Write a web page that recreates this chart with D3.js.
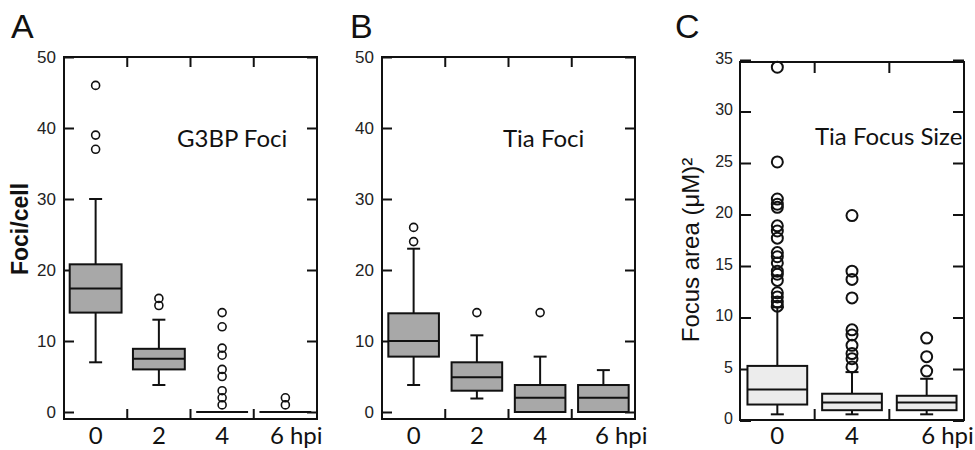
<!DOCTYPE html>
<html>
<head>
<meta charset="utf-8">
<script src="https://cdn.jsdelivr.net/npm/d3@7"></script>
<style>
  body { margin: 0; background: #fff; }
  svg { display: block; }
  .tick text { font-family: "Liberation Sans", Arial, sans-serif; fill: #222; }
</style>
</head>
<body>
<svg id="chart" width="975" height="450"></svg>
<script>
// panel A - G3BP foci per cell
var hpiA = ["0", "2", "4", "6 hpi"];
var g3bpQ1  = [14, 6, 0, 0];
var g3bpMed = [17.4, 7.5, 0, 0];
var g3bpQ3  = [20.8, 8.9, 0, 0];
var g3bpLo  = [7, 3.8, 0, 0];
var g3bpHi  = [30, 13, 0, 0];
var g3bpOut = [[46, 39, 37], [16, 15], [14, 12, 9, 8, 6, 5, 3, 2, 1], [2, 1]];

// panel B - Tia foci per cell
var hpiB = ["0", "2", "4", "6 hpi"];
var tiaQ1  = [7.8, 3, 0, 0];
var tiaMed = [10, 4.9, 2, 2];
var tiaQ3  = [13.9, 7, 3.8, 3.8];
var tiaLo  = [3.8, 1.9, 0, 0];
var tiaHi  = [23, 10.8, 7.8, 5.9];
var tiaOut = [[26, 24], [14], [14], []];

// panel C - Tia focus size
var hpiC = ["0", "4", "6 hpi"];
var sizeQ1  = [1.55, 1.0, 1.0];
var sizeMed = [3.0, 1.75, 1.75];
var sizeQ3  = [5.3, 2.6, 2.4];
var sizeLo  = [0.6, 0.6, 0.6];
var sizeHi  = [11, 4.7, 4.05];
var sizeOut = [
  [34.3, 25.1, 21.5, 21.0, 20.7, 18.9, 18.4, 17.7, 16.3, 15.9, 15.3, 14.5, 14.2, 13.6, 12.4, 12.0, 11.5, 11.1],
  [19.9, 14.5, 13.7, 11.9, 8.8, 8.3, 7.3, 6.5, 6.0, 5.2],
  [8.0, 6.2, 4.8]
];

var yTicksAB = [0, 10, 20, 30, 40, 50];
var yTicksC = [0, 5, 10, 15, 20, 25, 30, 35];

var svg = d3.select("#chart");

function panel(cfg) {
  var g = svg.append("g");
  var x = d3.scaleBand().domain(cfg.cats).range([cfg.left, cfg.right]);
  var y = d3.scaleLinear().domain(cfg.domain).range(cfg.yRange);

  // frame
  g.append("rect")
    .attr("x", cfg.left).attr("y", cfg.top)
    .attr("width", cfg.right - cfg.left).attr("height", cfg.bottom - cfg.top)
    .attr("fill", "none").attr("stroke", "#111").attr("stroke-width", 2);

  // y ticks left (with labels) and right
  var yl = g.append("g")
    .attr("transform", "translate(" + cfg.left + ",0)")
    .call(d3.axisLeft(y).tickValues(cfg.ticks).tickSize(-cfg.tick).tickPadding(cfg.pad));
  yl.select(".domain").remove();
  yl.selectAll("line").attr("stroke", "#111").attr("stroke-width", 2);
  yl.selectAll("text").attr("font-size", cfg.tickFont).attr("dy", cfg.tickDy);

  var yr = g.append("g")
    .attr("transform", "translate(" + cfg.right + ",0)")
    .call(d3.axisRight(y).tickValues(cfg.ticks).tickSize(-cfg.tick).tickFormat(""));
  yr.select(".domain").remove();
  yr.selectAll("line").attr("stroke", "#111").attr("stroke-width", 2);

  // band separators on top and bottom
  var seps = cfg.cats.slice(1);
  g.selectAll(".septop").data(seps).enter().append("line")
    .attr("x1", function(d) { return x(d); }).attr("x2", function(d) { return x(d); })
    .attr("y1", cfg.top).attr("y2", cfg.top + cfg.tick)
    .attr("stroke", "#111").attr("stroke-width", 2);
  g.selectAll(".sepbot").data(seps).enter().append("line")
    .attr("x1", function(d) { return x(d); }).attr("x2", function(d) { return x(d); })
    .attr("y1", cfg.bottom).attr("y2", cfg.bottom - cfg.tick)
    .attr("stroke", "#111").attr("stroke-width", 2);

  // boxes
  var bw = x.bandwidth() * cfg.boxFrac;
  var cap = cfg.cap;
  cfg.cats.forEach(function(c, i) {
    var cx = x(c) + x.bandwidth() / 2;
    var s = { q1: cfg.q1[i], med: cfg.med[i], q3: cfg.q3[i], lo: cfg.lo[i], hi: cfg.hi[i] };
    var bg = g.append("g");
    if (s.hi > s.q3) {
      bg.append("line").attr("x1", cx).attr("x2", cx).attr("y1", y(s.q3)).attr("y2", y(s.hi))
        .attr("stroke", "#111").attr("stroke-width", 2);
      bg.append("line").attr("x1", cx - cap / 2).attr("x2", cx + cap / 2).attr("y1", y(s.hi)).attr("y2", y(s.hi))
        .attr("stroke", "#111").attr("stroke-width", 2);
    }
    if (s.lo < s.q1) {
      bg.append("line").attr("x1", cx).attr("x2", cx).attr("y1", y(s.q1)).attr("y2", y(s.lo))
        .attr("stroke", "#111").attr("stroke-width", 2);
      bg.append("line").attr("x1", cx - cap / 2).attr("x2", cx + cap / 2).attr("y1", y(s.lo)).attr("y2", y(s.lo))
        .attr("stroke", "#111").attr("stroke-width", 2);
    }
    bg.append("rect")
      .attr("x", cx - bw / 2).attr("width", bw)
      .attr("y", y(s.q3)).attr("height", Math.max(0, y(s.q1) - y(s.q3)))
      .attr("fill", cfg.fill).attr("stroke", "#111").attr("stroke-width", 2);
    bg.append("line").attr("x1", cx - bw / 2).attr("x2", cx + bw / 2).attr("y1", y(s.med)).attr("y2", y(s.med))
      .attr("stroke", "#111").attr("stroke-width", 2);
    bg.selectAll("circle").data(cfg.out[i]).enter().append("circle")
      .attr("cx", cx).attr("cy", function(d) { return y(d); })
      .attr("r", cfg.r).attr("fill", "#fff").attr("fill-opacity", 0)
      .attr("stroke", "#111").attr("stroke-width", cfg.rw);
  });

  // x labels
  g.selectAll(".xl").data(cfg.cats).enter().append("text")
    .attr("x", function(d, i) {
      var cx = x(d) + x.bandwidth() / 2;
      return i === cfg.cats.length - 1 ? cx + cfg.lastShift : cx;
    })
    .attr("y", 444)
    .attr("text-anchor", function(d, i) { return i === cfg.cats.length - 1 ? "start" : "middle"; })
    .attr("font-family", "Lato, 'Open Sans', sans-serif")
    .attr("font-size", 24).attr("fill", "#111")
    .text(function(d) { return d; });

  // in-plot title
  g.append("text").attr("x", cfg.titleX).attr("y", cfg.titleY)
    .attr("font-family", "Lato, 'Open Sans', sans-serif")
    .attr("font-size", 24).attr("fill", "#111")
    .text(cfg.title);

  // panel letter
  g.append("text").attr("x", cfg.letterX).attr("y", cfg.letterY)
    .attr("font-family", "'Liberation Sans', Arial, sans-serif")
    .attr("font-size", 34).attr("fill", "#111")
    .text(cfg.letter);
}

panel({
  cats: hpiA, left: 64, right: 317, top: 57, bottom: 419,
  domain: [0, 50], yRange: [412, 57], ticks: yTicksAB, tick: 10, pad: 8,
  tickFont: 17, tickDy: "0.32em",
  q1: g3bpQ1, med: g3bpMed, q3: g3bpQ3, lo: g3bpLo, hi: g3bpHi, out: g3bpOut,
  fill: "#a8a8a8", boxFrac: 0.82, cap: 13, r: 4, rw: 1.6, lastShift: -15.5,
  title: "G3BP Foci", titleX: 177, titleY: 147, letter: "A", letterX: 11, letterY: 38
});

panel({
  cats: hpiB, left: 382, right: 635, top: 57, bottom: 419,
  domain: [0, 50], yRange: [412, 57], ticks: yTicksAB, tick: 10, pad: 8,
  tickFont: 17, tickDy: "0.32em",
  q1: tiaQ1, med: tiaMed, q3: tiaQ3, lo: tiaLo, hi: tiaHi, out: tiaOut,
  fill: "#a8a8a8", boxFrac: 0.8, cap: 13, r: 4, rw: 1.6, lastShift: -8.5,
  title: "Tia Foci", titleX: 503, titleY: 147, letter: "B", letterX: 350, letterY: 38
});

panel({
  cats: hpiC, left: 740, right: 964, top: 62, bottom: 420,
  domain: [0, 35], yRange: [420.5, 60], ticks: yTicksC, tick: 11, pad: 7,
  tickFont: 16, tickDy: "0.2em",
  q1: sizeQ1, med: sizeMed, q3: sizeQ3, lo: sizeLo, hi: sizeHi, out: sizeOut,
  fill: "#ececec", boxFrac: 0.8, cap: 13, r: 5.5, rw: 2, lastShift: -5.5,
  title: "Tia Focus Size", titleX: 815, titleY: 145, letter: "C", letterX: 675, letterY: 38
});

// y axis titles
svg.append("text")
  .attr("transform", "translate(28,229) rotate(-90)")
  .attr("text-anchor", "middle")
  .attr("font-family", "'Liberation Sans', Arial, sans-serif")
  .attr("font-weight", "bold").attr("font-size", 23).attr("fill", "#111")
  .text("Foci/cell");

svg.append("text")
  .attr("transform", "translate(699,250) rotate(-90)")
  .attr("text-anchor", "middle")
  .attr("font-family", "'Liberation Sans', Arial, sans-serif")
  .attr("font-size", 24).attr("fill", "#111")
  .text("Focus area (\u03BCM)\u00B2");
</script>
</body>
</html>
